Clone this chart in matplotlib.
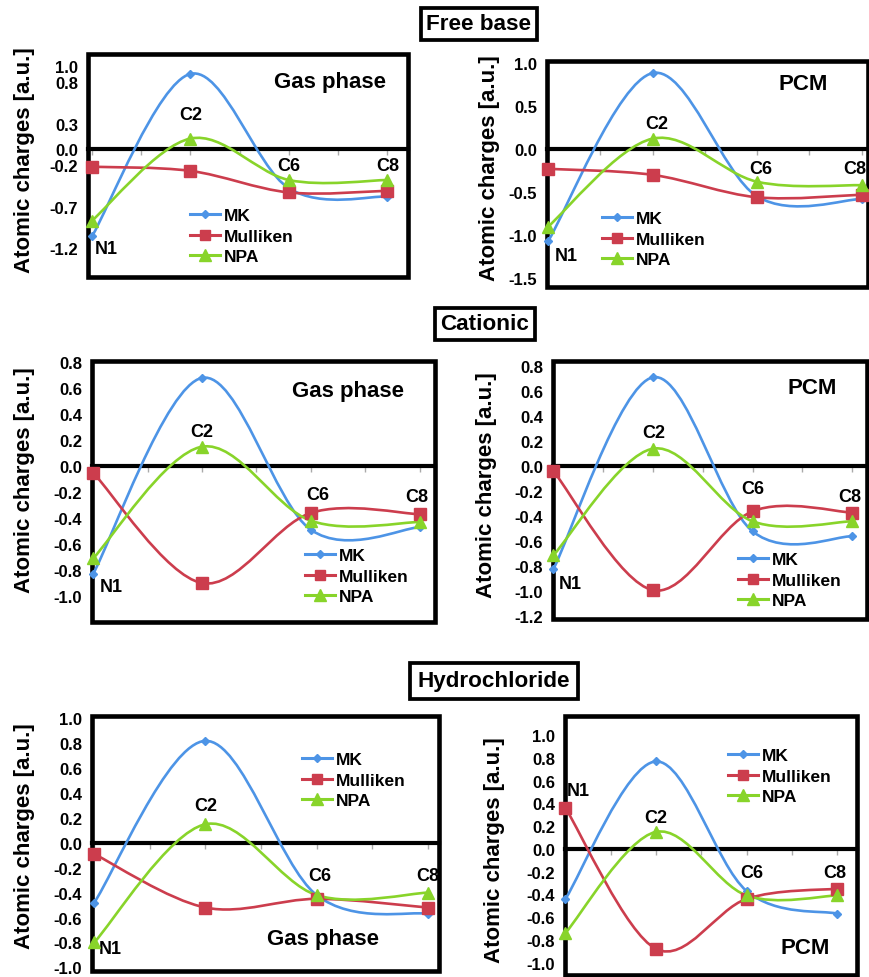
import numpy as np
import matplotlib
matplotlib.use("Agg")
import matplotlib.pyplot as plt
from matplotlib.path import Path
from matplotlib.patches import PathPatch, Rectangle
from matplotlib.lines import Line2D

plt.rcParams["font.family"] = ["Liberation Sans", "DejaVu Sans"]
plt.rcParams["font.weight"] = "bold"
plt.rcParams["axes.unicode_minus"] = False

# atoms on the x axis and the three charge schemes
atoms = ["N1", "C2", "C6", "C8"]
series_names = ["MK", "Mulliken", "NPA"]

# free base
free_gas_mk = [-1.06, 0.90, -0.48, -0.58]
free_gas_mull = [-0.22, -0.27, -0.53, -0.51]
free_gas_npa = [-0.87, 0.12, -0.38, -0.38]
free_pcm_mk = [-1.07, 0.88, -0.55, -0.58]
free_pcm_mull = [-0.23, -0.30, -0.56, -0.53]
free_pcm_npa = [-0.90, 0.12, -0.38, -0.42]

# cationic
cat_gas_mk = [-0.83, 0.68, -0.49, -0.47]
cat_gas_mull = [-0.05, -0.90, -0.36, -0.37]
cat_gas_npa = [-0.71, 0.15, -0.42, -0.43]
cat_pcm_mk = [-0.82, 0.71, -0.52, -0.56]
cat_pcm_mull = [-0.04, -0.99, -0.36, -0.37]
cat_pcm_npa = [-0.71, 0.14, -0.44, -0.44]

# hydrochloride
hcl_gas_mk = [-0.48, 0.82, -0.42, -0.57]
hcl_gas_mull = [-0.09, -0.52, -0.45, -0.52]
hcl_gas_npa = [-0.80, 0.15, -0.42, -0.40]
hcl_pcm_mk = [-0.44, 0.77, -0.37, -0.57]
hcl_pcm_mull = [0.36, -0.88, -0.44, -0.35]
hcl_pcm_npa = [-0.74, 0.15, -0.41, -0.41]

colors = ["#4d94e6", "#cc3d4d", "#88d42a"]
markers = ["D", "s", "^"]
msizes = [4.5, 8, 8]
legend_ms = [4.5, 7, 8]

W, H = 870, 978
fig = plt.figure(figsize=(W / 100, H / 100), dpi=100)


def smooth_path(xs, ys):
    # excel-like smoothed line as cubic bezier segments
    pts = np.column_stack([xs, ys]).astype(float)
    n = len(pts)
    verts = [pts[0]]
    codes = [Path.MOVETO]
    for i in range(n - 1):
        p0 = pts[max(i - 1, 0)]
        p1 = pts[i]
        p2 = pts[i + 1]
        p3 = pts[min(i + 2, n - 1)]
        verts += [p1 + (p2 - p0) / 6, p2 - (p3 - p1) / 6, p2]
        codes += [Path.CURVE4] * 3
    return Path(verts, codes)


def yt(a, b, s):
    return [round(float(v), 1) + 0.0 for v in np.arange(a, b + s / 2, s)]


def fmt(v):
    return "0.0" if abs(v) < 1e-9 else "%.1f" % v


panels = [
    dict(rect=(88, 55, 408, 278), xlim=(-0.04, 3.21), ylim=(-1.55, 1.14),
         yticks=[-1.2, -0.7, -0.2, 0.0, 0.3, 0.8, 1.0],
         series=(free_gas_mk, free_gas_mull, free_gas_npa),
         title="Gas phase", title_xy=(2.42, 0.81),
         atom_xy=[(0.15, -1.21), (1.0, 0.41), (2.0, -0.21), (3.0, -0.21)],
         legend=(190, 237), ylabel=(25, 160)),
    dict(rect=(547, 62, 868, 288), xlim=(-0.01, 3.06), ylim=(-1.60, 1.02),
         yticks=yt(-1.5, 1.0, 0.5),
         series=(free_pcm_mk, free_pcm_mull, free_pcm_npa),
         title="PCM", title_xy=(2.44, 0.76),
         atom_xy=[(0.17, -1.24), (1.04, 0.30), (2.03, -0.23), (2.93, -0.23)],
         legend=(602, 240), ylabel=(490, 168)),
    dict(rect=(92, 362, 435, 623), xlim=(-0.01, 3.14), ylim=(-1.2, 0.81),
         yticks=yt(-1.0, 0.8, 0.2),
         series=(cat_gas_mk, cat_gas_mull, cat_gas_npa),
         title="Gas phase", title_xy=(2.34, 0.58),
         atom_xy=[(0.17, -0.93), (1.0, 0.27), (2.06, -0.22), (2.97, -0.23)],
         legend=(305, 577), ylabel=(25, 480)),
    dict(rect=(553, 362, 867, 620), xlim=(-0.005, 3.15), ylim=(-1.22, 0.84),
         yticks=yt(-1.2, 0.8, 0.2),
         series=(cat_pcm_mk, cat_pcm_mull, cat_pcm_npa),
         title="PCM", title_xy=(2.6, 0.63),
         atom_xy=[(0.17, -0.94), (1.01, 0.27), (2.0, -0.18), (2.98, -0.24)],
         legend=(738, 581), ylabel=(487, 485)),
    dict(rect=(92, 717, 439, 972), xlim=(-0.02, 3.1), ylim=(-1.03, 1.02),
         yticks=yt(-1.0, 1.0, 0.2),
         series=(hcl_gas_mk, hcl_gas_mull, hcl_gas_npa),
         title="Gas phase", title_xy=(2.06, -0.77),
         atom_xy=[(0.14, -0.85), (1.0, 0.30), (2.03, -0.26), (3.0, -0.26)],
         legend=(302, 781), ylabel=(25, 836)),
    dict(rect=(565, 717, 857, 976), xlim=(-0.005, 3.22), ylim=(-1.11, 1.17),
         yticks=yt(-1.0, 1.0, 0.2),
         series=(hcl_pcm_mk, hcl_pcm_mull, hcl_pcm_npa),
         title="PCM", title_xy=(2.65, -0.87),
         atom_xy=[(0.14, 0.51), (1.0, 0.28), (2.06, -0.21), (2.97, -0.21)],
         legend=(728, 777), ylabel=(495, 850)),
]

headers = [("Free base", 479, 25, 0.25), ("Cationic", 485, 325, 0.25),
           ("Hydrochloride", 494, 682, 0.35)]

x = np.arange(len(atoms))

for p in panels:
    x0, y0, x1, y1 = p["rect"]
    ax = fig.add_axes([x0 / W, 1 - y1 / H, (x1 - x0) / W, (y1 - y0) / H])
    ax.set_xlim(p["xlim"])
    ax.set_ylim(p["ylim"])
    for s in ["left", "right", "top"]:
        ax.spines[s].set_visible(False)
    # zero line acts as the category axis
    ax.spines["bottom"].set_position(("data", 0))
    ax.spines["bottom"].set_linewidth(3)
    ax.spines["bottom"].set_zorder(2)
    ax.set_xticks(np.arange(0, 3.01, 0.5))
    ax.set_xticklabels([])
    ax.tick_params(axis="x", length=4, width=1, color="#aaaaaa", direction="out")
    ax.add_patch(Rectangle((0, 0), 1, 1, transform=ax.transAxes, fill=False,
                           lw=3.3, ec="black", clip_on=False, zorder=2))
    ax.set_yticks(p["yticks"])
    ax.set_yticklabels([fmt(v) for v in p["yticks"]], fontsize=12, fontweight="bold")
    ax.tick_params(axis="y", length=0, pad=7)

    for vals, c, m, ms in zip(p["series"], colors, markers, msizes):
        ax.add_patch(PathPatch(smooth_path(x, vals), fill=False, ec=c, lw=1.9,
                               zorder=3, capstyle="round"))
        ax.plot(x, vals, ls="none", marker=m, ms=ms, color=c, mec=c,
                zorder=4, clip_on=False)

    for name, (tx, ty) in zip(atoms, p["atom_xy"]):
        ax.text(tx, ty, name, ha="center", va="center", fontsize=13, fontweight="bold")
    ax.text(*p["title_xy"], p["title"], ha="center", va="center", fontsize=16,
            fontweight="bold")

    handles = [Line2D([], [], color=c, marker=m, ms=ms, lw=2.2, mec=c)
               for c, m, ms in zip(colors, markers, legend_ms)]
    lx, ly = p["legend"]
    ax.legend(handles, series_names, loc="center left",
              bbox_to_anchor=(lx / W, 1 - ly / H), bbox_transform=fig.transFigure,
              frameon=False, borderpad=0, borderaxespad=0, handlelength=1.75,
              handletextpad=0.2, labelspacing=0.3,
              prop={"size": 12.5, "weight": "bold"})

    px, py = p["ylabel"]
    fig.text(px / W, 1 - py / H, "Atomic charges [a.u.]", rotation=90,
             ha="center", va="center", fontsize=16, fontweight="bold")

for label, hx, hy, pad in headers:
    fig.text(hx / W, 1 - hy / H, label, ha="center", va="center", fontsize=16.2,
             fontweight="bold",
             bbox=dict(boxstyle="square,pad=%.2f" % pad, fc="white", ec="black", lw=2.7))

fig.savefig("out.png", dpi=100)
